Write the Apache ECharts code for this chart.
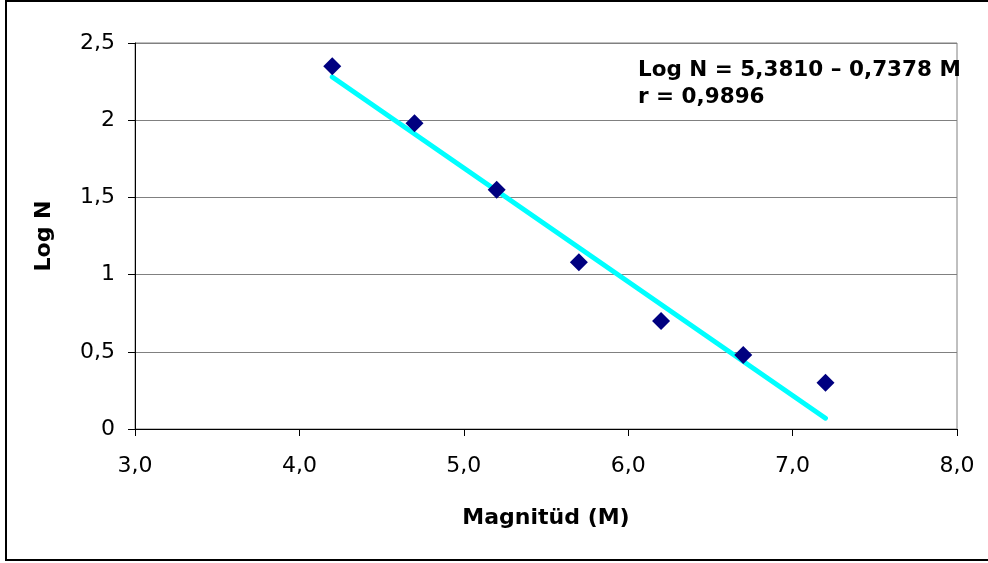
<!DOCTYPE html>
<html>
<head>
<meta charset="utf-8">
<script src="https://cdn.jsdelivr.net/npm/echarts@6/dist/echarts.min.js"></script>
<style>
html,body{margin:0;padding:0;background:#fff;}
#chart{width:988px;height:563px;}
</style>
</head>
<body>
<div id="chart"></div>
<script>
// Data
var magnitudes = [4.2, 4.7, 5.2, 5.7, 6.2, 6.7, 7.2];
var logN = [2.35, 1.98, 1.55, 1.08, 0.70, 0.48, 0.30];
var trendX = [4.2, 7.2];
var trendY = [2.28, 0.07];
var xTickValues = [3, 4, 5, 6, 7, 8];
var xTickLabels = ['3,0', '4,0', '5,0', '6,0', '7,0', '8,0'];
var yTickValues = [0, 0.5, 1, 1.5, 2, 2.5];
var yTickLabels = ['0', '0,5', '1', '1,5', '2', '2,5'];
var xTitle = 'Magnitüd (M)';
var yTitle = 'Log N';
var equationLines = ['Log N = 5,3810 \u2013 0,7378 M', 'r = 0,9896'];

var FONT = 'DejaVu Sans';

function labelFor(values, labels) {
  return function (v) {
    for (var i = 0; i < values.length; i++) {
      if (Math.abs(values[i] - v) < 1e-9) return labels[i];
    }
    return '';
  };
}

var scatterData = magnitudes.map(function (m, i) { return [m, logN[i]]; });
var trendData = trendX.map(function (x, i) { return [x, trendY[i]]; });

var chart = echarts.init(document.getElementById('chart'), null, { renderer: 'canvas' });
chart.setOption({
  animation: false,
  backgroundColor: '#ffffff',
  grid: {
    left: 135, right: 31, top: 43, bottom: 134,
    show: true, borderColor: '#808080', borderWidth: 1, backgroundColor: 'transparent'
  },
  xAxis: {
    type: 'value', min: 3, max: 8, interval: 1,
    name: xTitle, nameLocation: 'middle', nameGap: 78,
    nameTextStyle: { fontFamily: FONT, fontWeight: 'bold', fontSize: 22, color: '#000' },
    axisLine: { show: true, onZero: false, lineStyle: { color: '#000', width: 1 } },
    axisTick: { show: true, inside: false, length: 7, lineStyle: { color: '#000' } },
    axisLabel: { margin: 26, fontFamily: FONT, fontSize: 22, color: '#000', formatter: labelFor(xTickValues, xTickLabels) },
    splitLine: { show: false }
  },
  yAxis: {
    type: 'value', min: 0, max: 2.5, interval: 0.5,
    name: yTitle, nameLocation: 'middle', nameGap: 80, nameRotate: 90,
    nameTextStyle: { fontFamily: FONT, fontWeight: 'bold', fontSize: 22, color: '#000' },
    axisLine: { show: true, onZero: false, lineStyle: { color: '#000', width: 1 } },
    axisTick: { show: true, inside: false, length: 7, lineStyle: { color: '#000' } },
    axisLabel: { margin: 20, fontFamily: FONT, fontSize: 22, color: '#000', formatter: labelFor(yTickValues, yTickLabels) },
    splitLine: { show: true, lineStyle: { color: '#808080', width: 1 } }
  },
  series: [
    {
      type: 'line', data: trendData, showSymbol: false, symbol: 'none', z: 2,
      lineStyle: { color: '#00FFFF', width: 5, cap: 'round' }
    },
    {
      type: 'scatter', data: scatterData, symbol: 'diamond', symbolSize: 18, z: 3,
      itemStyle: { color: '#000080', opacity: 1 }
    }
  ],
  graphic: [
    {
      type: 'rect', silent: true, z: 100,
      shape: { x: 6, y: 1, width: 990, height: 559 },
      style: { fill: 'none', stroke: '#000', lineWidth: 2 }
    },
    {
      type: 'text', silent: true, z: 100, left: 638, top: 57,
      style: {
        text: equationLines.join('\n'),
        fontFamily: FONT, fontWeight: 'bold', fontSize: 21.5, lineHeight: 27,
        fill: '#000'
      }
    }
  ]
});
</script>
</body>
</html>
